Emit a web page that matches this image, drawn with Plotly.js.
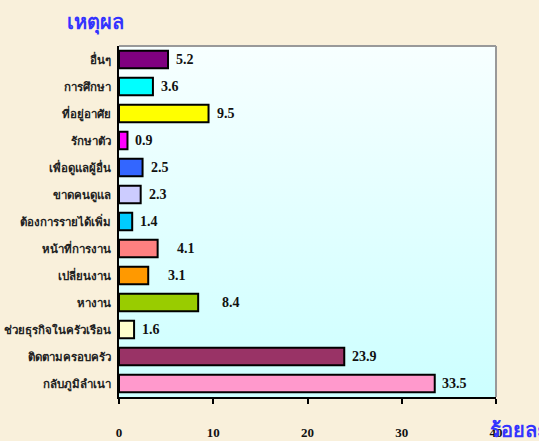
<!DOCTYPE html>
<html>
<head>
<meta charset="utf-8">
<script src="https://cdn.plot.ly/plotly-3.0.1.min.js"></script>
<style>
  body { margin: 0; background: #F9F0DB; }
  #graphique { width: 539px; height: 441px; }
</style>
</head>
<body>
<div id="graphique"></div>
<script>
// raisons, de haut en bas
let raisons = ['อื่นๆ', 'การศึกษา', 'ที่อยู่อาศัย', 'รักษาตัว', 'เพื่อดูแลผู้อื่น', 'ขาดคนดูแล',
  'ต้องการรายได้เพิ่ม', 'หน้าที่การงาน', 'เปลี่ยนงาน', 'หางาน', 'ช่วยธุรกิจในครัวเรือน',
  'ติดตามครอบครัว', 'กลับภูมิลำเนา'];
let pourcentages = [5.2, 3.6, 9.5, 0.9, 2.5, 2.3, 1.4, 4.1, 3.1, 8.4, 1.6, 23.9, 33.5];
let etiquettes = ['5.2', '3.6', '9.5', '0.9', '2.5', '2.3', '1.4', '4.1', '3.1', '8.4', '1.6', '23.9', '33.5'];

let couleurs = ['#800080', '#00FFFF', '#FFFF00', '#FF00FF', '#3366FF', '#CCCCFF', '#00CCFF',
  '#FF8080', '#FF9900', '#99CC00', '#FFFFCC', '#993366', '#FF99CC'];
let decalage = [6, 6, 6, 6, 6, 6, 6, 17, 18, 22, 6, 6, 5];

let police = 'Liberation Serif, Times New Roman, serif';

let fond = 'data:image/svg+xml;utf8,' + encodeURIComponent(
  '<svg xmlns="http://www.w3.org/2000/svg" width="10" height="100" preserveAspectRatio="none">' +
  '<defs><linearGradient id="g" x1="0" y1="0" x2="0" y2="1">' +
  '<stop offset="0" stop-color="#F7FFFF"/><stop offset="1" stop-color="#CCFFFF"/>' +
  '</linearGradient></defs><rect width="10" height="100" fill="url(#g)"/></svg>');

let data = [{
  type: 'bar',
  orientation: 'h',
  x: pourcentages,
  y: raisons,
  marker: { color: couleurs, line: { color: '#000000', width: 2 } },
  hoverinfo: 'y+x'
}];

let notes = raisons.map((r, i) => ({
  x: pourcentages[i],
  y: r,
  xref: 'x',
  yref: 'y',
  text: etiquettes[i],
  showarrow: false,
  xanchor: 'left',
  xshift: decalage[i],
  font: { family: police, size: 14, color: '#111111', weight: 'bold' }
}));

notes.push({
  x: 1, y: 0, xref: 'paper', yref: 'paper',
  xanchor: 'left', yanchor: 'top',
  xshift: -8, yshift: -20,
  text: '<b>ร้อยละ</b>',
  showarrow: false,
  font: { family: police, size: 20, color: '#3333FF' }
});

let forme = {
  width: 539,
  height: 441,
  paper_bgcolor: '#F9F0DB',
  plot_bgcolor: 'rgba(0,0,0,0)',
  margin: { l: 119, r: 43, t: 46, b: 44 },
  title: {
    text: '<b>เหตุผล</b>',
    font: { family: police, size: 20, color: '#3333FF' },
    x: 95 / 539, xanchor: 'center', xref: 'container',
    y: 1 - 22 / 441, yanchor: 'middle', yref: 'container'
  },
  bargap: 0.36,
  showlegend: false,
  xaxis: {
    range: [0, 40],
    dtick: 10,
    showgrid: false,
    zeroline: false,
    showline: true,
    linecolor: '#000000',
    linewidth: 2,
    ticks: 'outside',
    ticklen: 5,
    tickwidth: 2,
    tickcolor: '#000000',
    ticklabelstandoff: 17,
    tickfont: { family: police, size: 13, color: '#111111', weight: 'bold' },
    mirror: false
  },
  yaxis: {
    autorange: 'reversed',
    showgrid: false,
    showline: true,
    linecolor: '#000000',
    linewidth: 2,
    ticks: '',
    ticklabelstandoff: 4,
    tickfont: { family: police, size: 11.5, color: '#222222', weight: 'bold' }
  },
  shapes: [
    { type: 'line', xref: 'paper', yref: 'paper', x0: 0, x1: 1, y0: 1, y1: 1,
      line: { color: '#999999', width: 2 } },
    { type: 'line', xref: 'paper', yref: 'paper', x0: 1, x1: 1, y0: 0, y1: 1,
      line: { color: '#999999', width: 2 } }
  ],
  images: [{
    source: fond,
    xref: 'paper', yref: 'paper',
    x: 0, y: 1, sizex: 1, sizey: 1,
    xanchor: 'left', yanchor: 'top',
    sizing: 'stretch',
    layer: 'below'
  }],
  annotations: notes
};

Plotly.newPlot('graphique', data, forme, { displayModeBar: false, staticPlot: true });
</script>
</body>
</html>
